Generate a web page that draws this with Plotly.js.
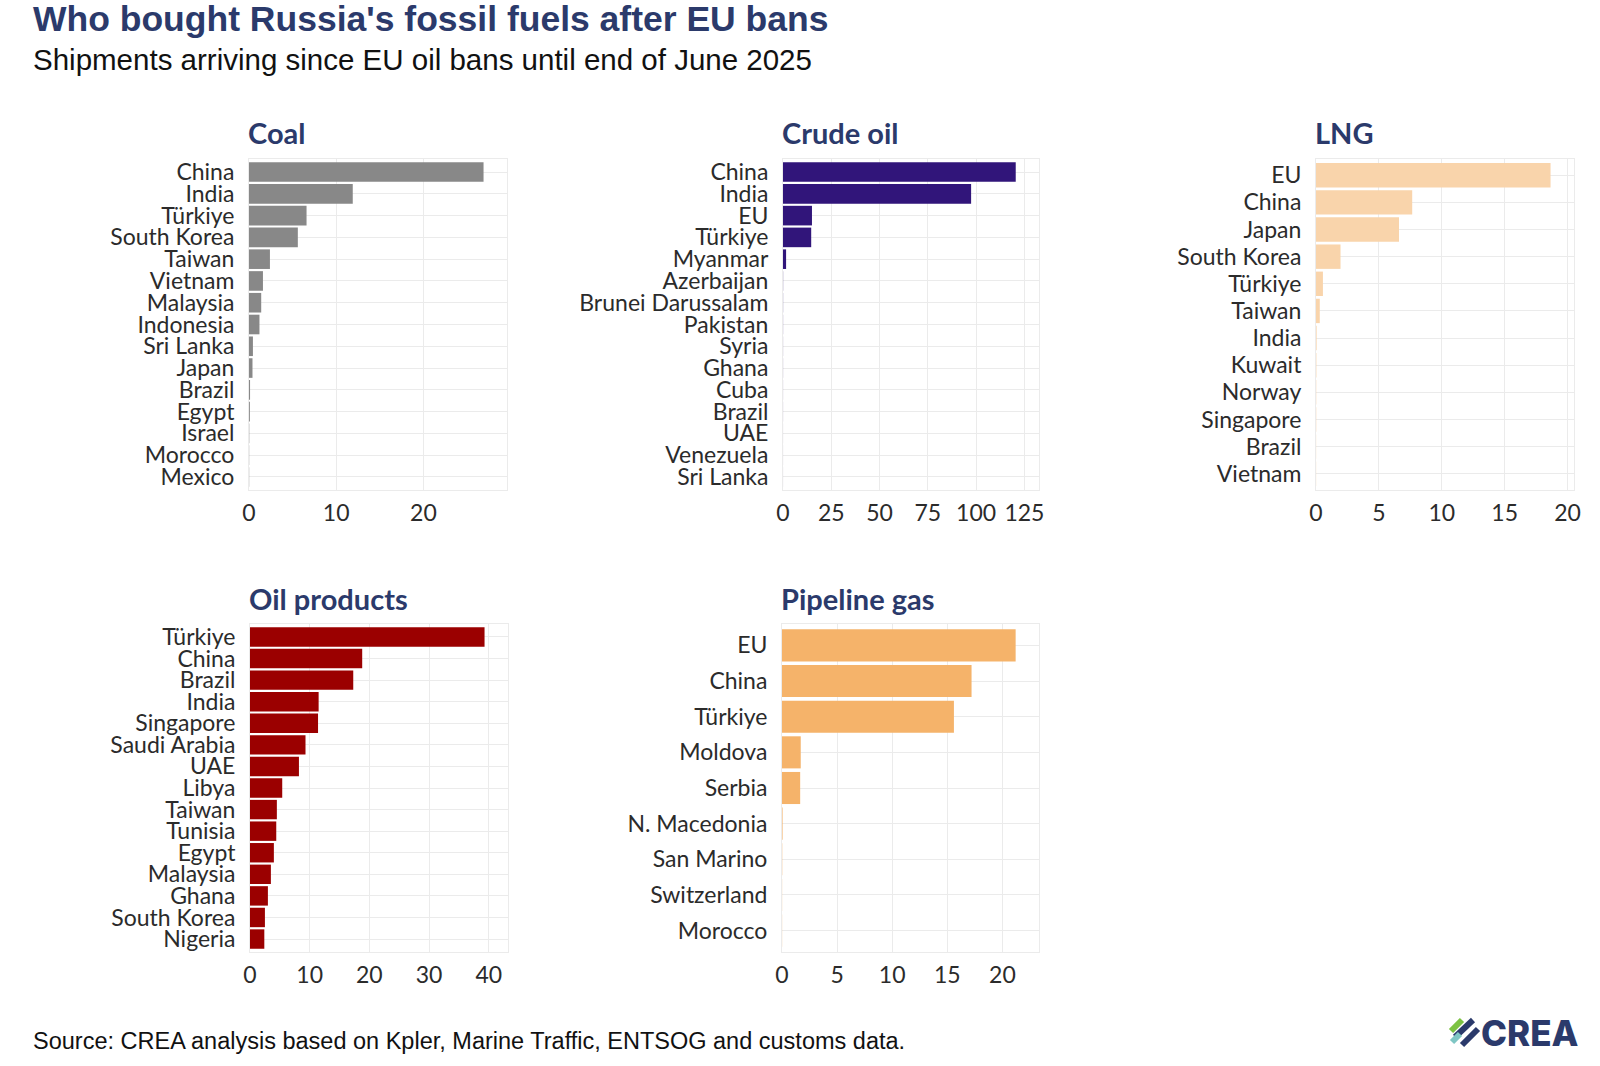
<!DOCTYPE html>
<html>
<head>
<meta charset="utf-8">
<script src="https://cdn.plot.ly/plotly-3.0.1.min.js"></script>
<style>
  html, body { margin: 0; padding: 0; background: #ffffff; }
  #chart { width: 1600px; height: 1066px; }
</style>
</head>
<body>
<div id="chart"></div>
<script>
// values (shipments, top buyers per fuel)
var coalCountries = ["China", "India", "Türkiye", "South Korea", "Taiwan", "Vietnam", "Malaysia", "Indonesia", "Sri Lanka", "Japan", "Brazil", "Egypt", "Israel", "Morocco", "Mexico"];
var coalValues = [26.9, 11.9, 6.6, 5.6, 2.4, 1.6, 1.4, 1.2, 0.45, 0.4, 0.12, 0.1, 0.03, 0.02, 0.02];

var crudeCountries = ["China", "India", "EU", "Türkiye", "Myanmar", "Azerbaijan", "Brunei Darussalam", "Pakistan", "Syria", "Ghana", "Cuba", "Brazil", "UAE", "Venezuela", "Sri Lanka"];
var crudeValues = [120.5, 97.4, 15.0, 14.6, 1.6, 0.06, 0.05, 0.04, 0.03, 0.03, 0.02, 0.02, 0.01, 0.01, 0.01];

var lngCountries = ["EU", "China", "Japan", "South Korea", "Türkiye", "Taiwan", "India", "Kuwait", "Norway", "Singapore", "Brazil", "Vietnam"];
var lngValues = [18.65, 7.65, 6.6, 1.95, 0.55, 0.3, 0.05, 0.03, 0.02, 0.02, 0.01, 0.01];

var oilCountries = ["Türkiye", "China", "Brazil", "India", "Singapore", "Saudi Arabia", "UAE", "Libya", "Taiwan", "Tunisia", "Egypt", "Malaysia", "Ghana", "South Korea", "Nigeria"];
var oilValues = [39.3, 18.8, 17.3, 11.5, 11.4, 9.3, 8.2, 5.4, 4.5, 4.4, 4.0, 3.5, 3.0, 2.5, 2.4];

var pipeCountries = ["EU", "China", "Türkiye", "Moldova", "Serbia", "N. Macedonia", "San Marino", "Switzerland", "Morocco"];
var pipeValues = [21.2, 17.2, 15.6, 1.7, 1.65, 0.05, 0.02, 0.01, 0.01];

var W = 1600, H = 1066;
function px(x) { return x / W; }
function py(y) { return 1 - y / H; }

var navy = "#2b3a6b";
var labelFont = { family: "Lato, 'Noto Sans', sans-serif", size: 23, color: "#2b2b2b" };
var gridGrey = "#ebebeb";

// panels: [countries, values, colour, title, left, right, top, bottom, dtick]
var panels = [
  [coalCountries, coalValues, "#888888", "Coal", 249, 507, 159, 490, 10],
  [crudeCountries, crudeValues, "#31157a", "Crude oil", 783, 1039, 159, 490, 25],
  [lngCountries, lngValues, "#f9d4ab", "LNG", 1316, 1574, 159, 490, 5],
  [oilCountries, oilValues, "#9b0000", "Oil products", 250, 508, 624, 952, 10],
  [pipeCountries, pipeValues, "#f5b36a", "Pipeline gas", 782, 1039, 624, 952, 5]
];

var data = [];
var layout = {
  width: W,
  height: H,
  margin: { t: 0, r: 0, b: 0, l: 0 },
  paper_bgcolor: "#ffffff",
  plot_bgcolor: "#ffffff",
  showlegend: false,
  bargap: 0.1,
  font: labelFont,
  annotations: [],
  shapes: []
};

panels.forEach(function(p, i) {
  var n = i === 0 ? "" : String(i + 1);
  var maxVal = Math.max.apply(null, p[1]);
  data.push({
    type: "bar",
    orientation: "h",
    y: p[0],
    x: p[1],
    xaxis: "x" + n,
    yaxis: "y" + n,
    marker: { color: p[2], line: { width: 0 } },
    hoverinfo: "skip"
  });
  layout["xaxis" + n] = {
    domain: [px(p[4]), px(p[5])],
    anchor: "y" + n,
    range: [0, maxVal * 1.1],
    dtick: p[8],
    tick0: 0,
    showgrid: true,
    gridcolor: gridGrey,
    gridwidth: 1,
    zeroline: false,
    showline: true,
    mirror: true,
    linecolor: gridGrey,
    linewidth: 1,
    ticks: "outside",
    ticklen: 2,
    tickcolor: "rgba(0,0,0,0)",
    tickfont: labelFont,
    fixedrange: true
  };
  layout["yaxis" + n] = {
    domain: [py(p[7]), py(p[6])],
    anchor: "x" + n,
    type: "category",
    range: [p[0].length - 0.4, -0.6],
    tickmode: "array",
    tickvals: p[0],
    ticktext: p[0],
    showgrid: true,
    gridcolor: gridGrey,
    gridwidth: 1,
    zeroline: false,
    showline: true,
    mirror: true,
    linecolor: gridGrey,
    linewidth: 1,
    ticks: "outside",
    ticklen: 9,
    tickcolor: "rgba(0,0,0,0)",
    tickfont: labelFont,
    fixedrange: true
  };
  layout.annotations.push({
    text: "<b>" + p[3] + "</b>",
    xref: "paper", yref: "paper",
    x: px(p[4] - 3), y: py(p[6] - 26),
    xanchor: "left", yanchor: "middle",
    showarrow: false,
    font: { family: "Lato, 'Noto Sans', sans-serif", size: 29, weight: 900, color: navy }
  });
});

// headline, subtitle, source
layout.annotations.push({
  text: "<b>Who bought Russia's fossil fuels after EU bans</b>",
  xref: "paper", yref: "paper", x: px(31), y: py(19),
  xanchor: "left", yanchor: "middle", showarrow: false,
  font: { family: "'Liberation Sans', Arial, sans-serif", size: 35.5, color: navy }
});
layout.annotations.push({
  text: "Shipments arriving since EU oil bans until end of June 2025",
  xref: "paper", yref: "paper", x: px(31), y: py(59),
  xanchor: "left", yanchor: "middle", showarrow: false,
  font: { family: "'Liberation Sans', Arial, sans-serif", size: 29.5, color: "#111111" }
});
layout.annotations.push({
  text: "Source: CREA analysis based on Kpler, Marine Traffic, ENTSOG and customs data.",
  xref: "paper", yref: "paper", x: px(31), y: py(1041),
  xanchor: "left", yanchor: "middle", showarrow: false,
  font: { family: "'Liberation Sans', Arial, sans-serif", size: 23.5, color: "#111111" }
});

// CREA logo
layout.annotations.push({
  text: "CREA",
  xref: "paper", yref: "paper", x: px(1581), y: py(1033),
  xanchor: "right", yanchor: "middle", showarrow: false,
  font: { family: "Inter, 'Open Sans', sans-serif", size: 35, weight: 800, color: navy }
});
var logoStripes = [
  [1451, 1031, 1462, 1020, "#7cc242"],
  [1455, 1037, 1473, 1020, navy],
  [1452, 1042, 1460, 1034, "#7fc6c4"],
  [1462, 1045, 1478, 1029, navy]
];
logoStripes.forEach(function(s) {
  layout.shapes.push({
    type: "line", xref: "paper", yref: "paper",
    x0: px(s[0]), y0: py(s[1]), x1: px(s[2]), y1: py(s[3]),
    line: { color: s[4], width: 6 }
  });
});

Plotly.newPlot("chart", data, layout, { displayModeBar: false, staticPlot: true });
</script>
</body>
</html>
